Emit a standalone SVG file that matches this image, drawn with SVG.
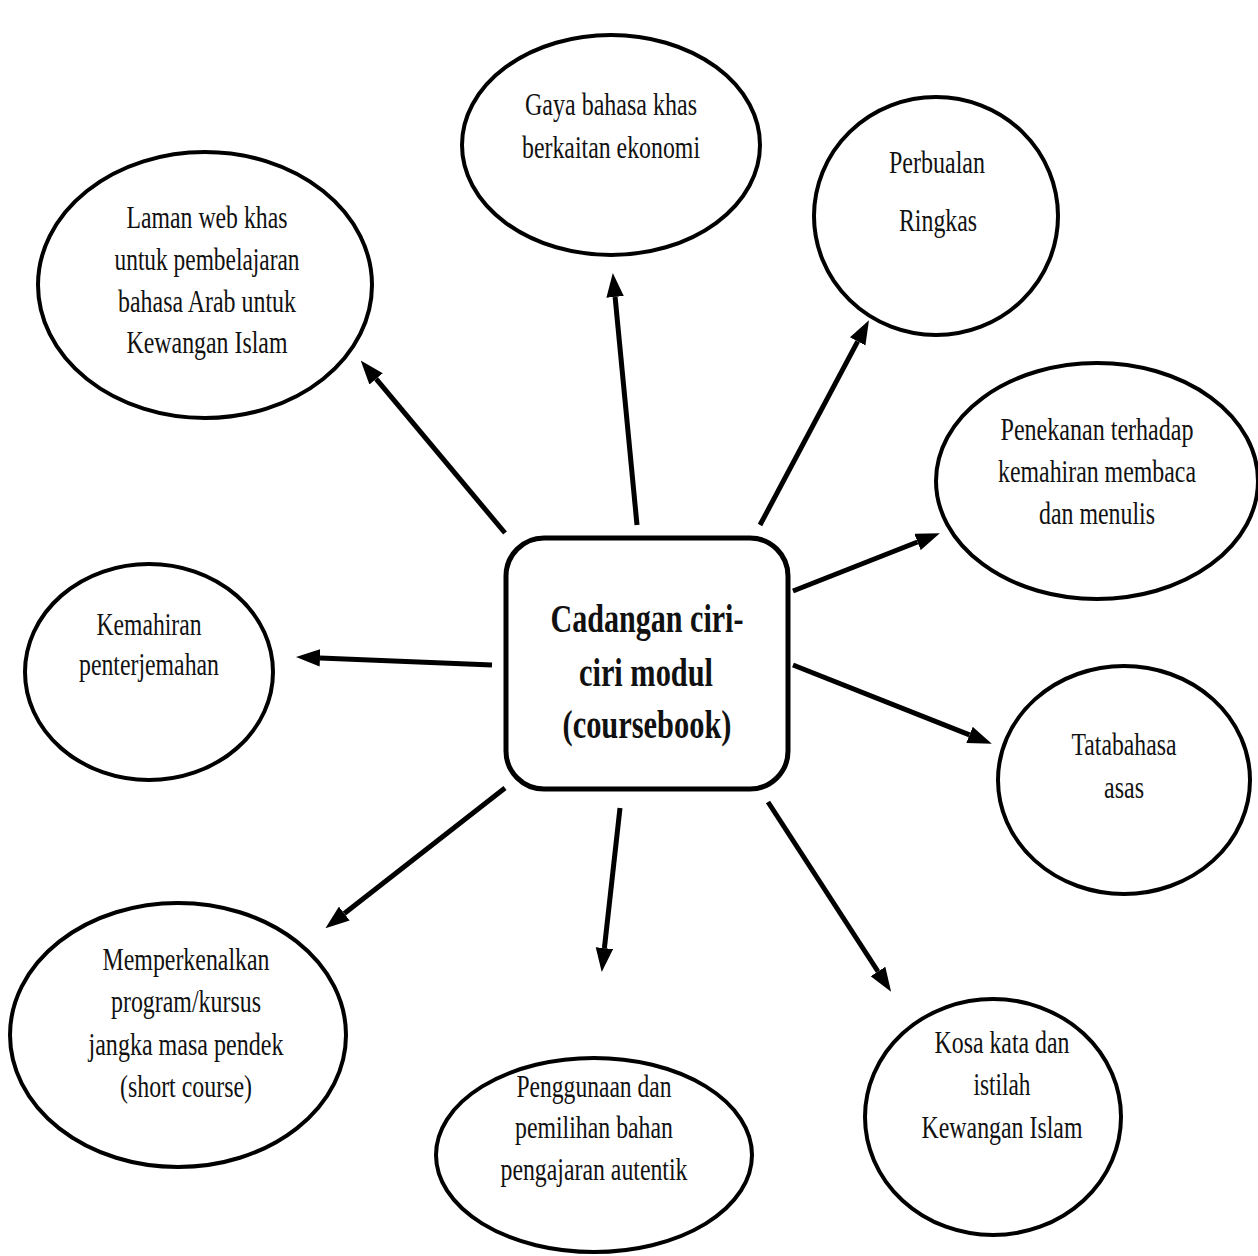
<svg xmlns="http://www.w3.org/2000/svg" width="1258" height="1256" viewBox="0 0 1258 1256">
<style>
.node ellipse{fill:#fff;stroke:#000;stroke-width:4}
.box{fill:#fff;stroke:#000;stroke-width:5}
text{font-family:"Liberation Serif","Times New Roman",serif;font-size:31px;fill:#111;text-anchor:middle}
.ctr{font-weight:bold;font-size:40px}
.conn line{stroke:#000;stroke-width:5}
</style>
<defs>
<marker id="ah" markerUnits="userSpaceOnUse" markerWidth="24" markerHeight="18" viewBox="0 0 22 16" refX="0" refY="8" orient="auto">
<path d="M0,0 L22,8 L0,16 z" fill="#000"/>
</marker>
</defs>
<rect width="1258" height="1256" fill="#fff"/>

<g id="connectors" class="conn">
<line x1="505" y1="533" x2="376.1" y2="378.9" marker-end="url(#ah)"/>
<line x1="637" y1="525" x2="615.1" y2="296.9" marker-end="url(#ah)"/>
<line x1="760" y1="525" x2="857.7" y2="341.4" marker-end="url(#ah)"/>
<line x1="793" y1="591" x2="917.5" y2="542" marker-end="url(#ah)"/>
<line x1="492" y1="665" x2="320" y2="657.9" marker-end="url(#ah)"/>
<line x1="793" y1="665" x2="969.5" y2="734.9" marker-end="url(#ah)"/>
<line x1="505" y1="788" x2="344.3" y2="913.5" marker-end="url(#ah)"/>
<line x1="620" y1="808" x2="604.4" y2="948.1" marker-end="url(#ah)"/>
<line x1="768" y1="802" x2="878" y2="971.5" marker-end="url(#ah)"/>
</g>

<g id="center">
<rect class="box" x="506" y="538" width="282" height="251" rx="38" ry="38"/>
<text class="ctr" x="647" y="632" textLength="193" lengthAdjust="spacingAndGlyphs">Cadangan ciri-</text>
<text class="ctr" x="646" y="686" textLength="134" lengthAdjust="spacingAndGlyphs">ciri modul</text>
<text class="ctr" x="647" y="738" textLength="169" lengthAdjust="spacingAndGlyphs">(coursebook)</text>
</g>

<g id="gaya" class="node">
<ellipse cx="611" cy="145" rx="149" ry="110"/>
<text x="611" y="115" textLength="172" lengthAdjust="spacingAndGlyphs">Gaya bahasa khas</text>
<text x="611" y="158" textLength="178" lengthAdjust="spacingAndGlyphs">berkaitan ekonomi</text>
</g>

<g id="perbualan" class="node">
<ellipse cx="936" cy="216" rx="122" ry="119"/>
<text x="937" y="173" textLength="96" lengthAdjust="spacingAndGlyphs">Perbualan</text>
<text x="938" y="231" textLength="78" lengthAdjust="spacingAndGlyphs">Ringkas</text>
</g>

<g id="laman" class="node">
<ellipse cx="205" cy="285" rx="167" ry="133"/>
<text x="207" y="228" textLength="161" lengthAdjust="spacingAndGlyphs">Laman web khas</text>
<text x="207" y="270" textLength="185" lengthAdjust="spacingAndGlyphs">untuk pembelajaran</text>
<text x="207" y="312" textLength="178" lengthAdjust="spacingAndGlyphs">bahasa Arab untuk</text>
<text x="207" y="353" textLength="161" lengthAdjust="spacingAndGlyphs">Kewangan Islam</text>
</g>

<g id="penekanan" class="node">
<ellipse cx="1097" cy="481" rx="161" ry="118"/>
<text x="1097" y="440" textLength="193" lengthAdjust="spacingAndGlyphs">Penekanan terhadap</text>
<text x="1097" y="482" textLength="198" lengthAdjust="spacingAndGlyphs">kemahiran membaca</text>
<text x="1097" y="524" textLength="116" lengthAdjust="spacingAndGlyphs">dan menulis</text>
</g>

<g id="kemahiran" class="node">
<ellipse cx="149" cy="672" rx="124" ry="108"/>
<text x="149" y="635" textLength="105" lengthAdjust="spacingAndGlyphs">Kemahiran</text>
<text x="149" y="675" textLength="140" lengthAdjust="spacingAndGlyphs">penterjemahan</text>
</g>

<g id="tatabahasa" class="node">
<ellipse cx="1124" cy="780" rx="126" ry="114"/>
<text x="1124" y="755" textLength="105" lengthAdjust="spacingAndGlyphs">Tatabahasa</text>
<text x="1124" y="798" textLength="40" lengthAdjust="spacingAndGlyphs">asas</text>
</g>

<g id="memperkenalkan" class="node">
<ellipse cx="178" cy="1035" rx="168" ry="132"/>
<text x="186" y="970" textLength="167" lengthAdjust="spacingAndGlyphs">Memperkenalkan</text>
<text x="186" y="1012" textLength="150" lengthAdjust="spacingAndGlyphs">program/kursus</text>
<text x="186" y="1055" textLength="195" lengthAdjust="spacingAndGlyphs">jangka masa pendek</text>
<text x="186" y="1097" textLength="132" lengthAdjust="spacingAndGlyphs">(short course)</text>
</g>

<g id="penggunaan" class="node">
<ellipse cx="594" cy="1155" rx="158" ry="97"/>
<text x="594" y="1097" textLength="155" lengthAdjust="spacingAndGlyphs">Penggunaan dan</text>
<text x="594" y="1138" textLength="158" lengthAdjust="spacingAndGlyphs">pemilihan bahan</text>
<text x="594" y="1180" textLength="187" lengthAdjust="spacingAndGlyphs">pengajaran autentik</text>
</g>

<g id="kosa" class="node">
<ellipse cx="993" cy="1117" rx="128" ry="118"/>
<text x="1002" y="1053" textLength="135" lengthAdjust="spacingAndGlyphs">Kosa kata dan</text>
<text x="1002" y="1095" textLength="57" lengthAdjust="spacingAndGlyphs">istilah</text>
<text x="1002" y="1138" textLength="161" lengthAdjust="spacingAndGlyphs">Kewangan Islam</text>
</g>
</svg>
